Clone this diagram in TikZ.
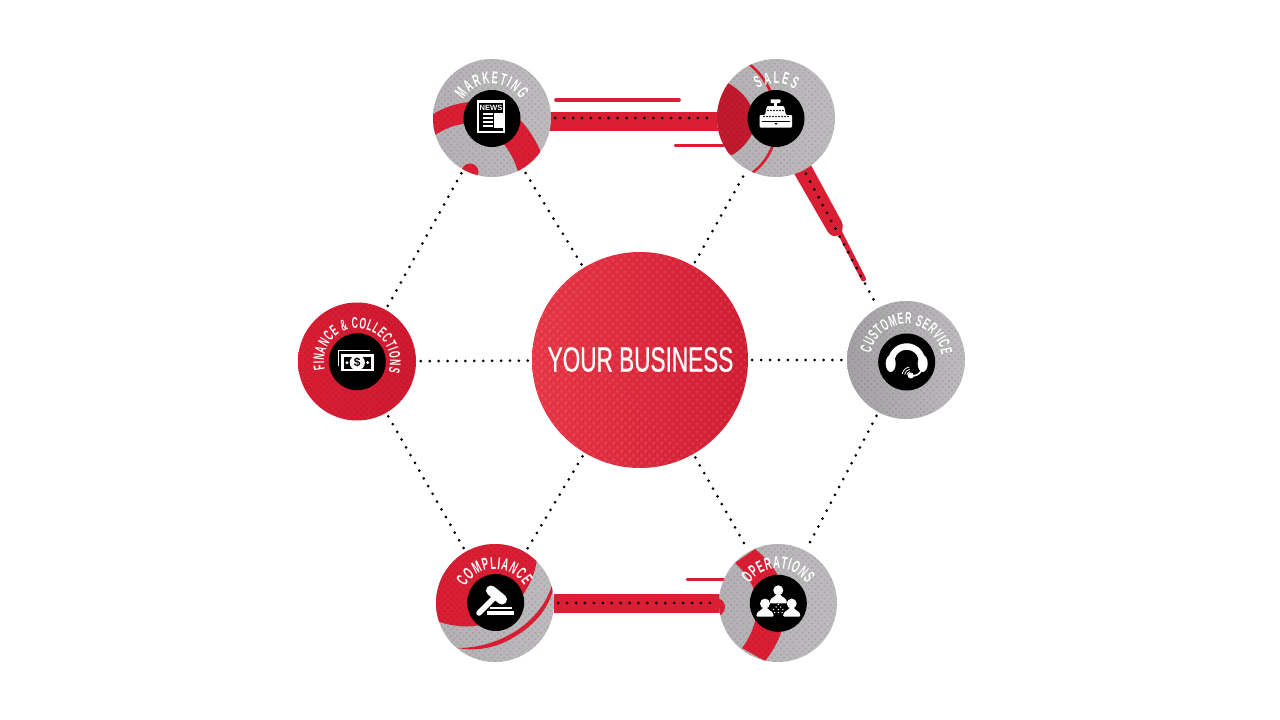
\documentclass[tikz,border=0pt]{standalone}
\usepackage{fontspec}
\usetikzlibrary{decorations.text,patterns.meta,backgrounds}
\newfontfamily\condfont[FakeStretch=0.645,FakeBold=0.5]{Liberation Sans}
\newfontfamily\labelfont[FakeStretch=0.55]{Liberation Sans Bold}
\newfontfamily\newsfont{Liberation Sans Bold}
\definecolor{brandred}{HTML}{DA1E34}
\definecolor{darkred}{HTML}{C21A2E}
\definecolor{diskgray}{HTML}{BDBBBD}
\definecolor{diskdark}{HTML}{B3B1B3}
\definecolor{custdark}{HTML}{A3A1A3}
\definecolor{E-left}{HTML}{E63545}
\definecolor{E-mid}{HTML}{DA1E34}
\definecolor{E-right}{HTML}{D01A30}
\pgfdeclarelayer{bands}
\pgfdeclarelayer{links}
\pgfsetlayers{bands,links,main}
\tikzset{
  x=1pt,y=-1pt,
  outerdisk/.style={circle,minimum size=118pt,inner sep=0pt,left color=diskdark,right color=diskgray},
  custdisk/.style={circle,minimum size=118pt,inner sep=0pt,left color=custdark,right color=diskgray},
  reddisk/.style={circle,minimum size=118pt,inner sep=0pt,left color=brandred,right color=E-right},
  core/.style={circle,minimum size=216pt,inner sep=0pt,left color=E-left,middle color=E-mid,right color=E-right},
  hub/.style={circle,minimum size=57pt,inner sep=0pt,fill=black},
  linkdots/.style={line width=3pt,line cap=round,dash pattern=on 0pt off 8.92pt,shorten >=4pt,shorten <=4pt},
  redfill/.style={fill=brandred},
  redline/.style={draw=brandred,line cap=round},
  halfgray/.style={pattern={Dots[distance=4.4pt,radius=1.25pt,angle=45]},pattern color=black,fill opacity=.09},
  halfcore/.style={pattern={Dots[distance=5.4pt,radius=1.9pt,angle=45]},pattern color=white,fill opacity=.09},
}
% label along an arc: #1 node, #2 radius, #3 start, #4 end (screen degrees), #5 size, #6 text
\newcommand{\arclabel}[6]{%
  \path[decorate,decoration={text along path,text align={fit to path},
    text={|\labelfont\fontsize{#5}{#5}\selectfont\color{white}|#6}}]
    ([shift={(-#3:#2)}]#1.center) arc[start angle=-#3,end angle=-#4,radius=#2];}
\newcommand{\haze}[1]{\fill[halfgray] (#1.center) circle (59);}
\newcommand{\personshape}[2]{%
  \fill[white] (#1,#2) circle (5);
  \fill[white,rounded corners=1pt] (#1-8.6,#2+13) .. controls (#1-8.6,#2+7.5) and (#1-3.5,#2+7) .. (#1-2.2,#2+4) -- (#1+2.2,#2+4) .. controls (#1+3.5,#2+7) and (#1+8.6,#2+7.5) .. (#1+8.6,#2+13) -- cycle;}
\begin{document}
\begin{tikzpicture}
\useasboundingbox (0,0) rectangle (1280,720);
\begin{pgfonlayer}{bands}
\fill[white] (0,0) rectangle (1280,720);
% marketing-sales streak
\fill[redfill] (549,112) rectangle (720,131);
\draw[redline,line width=3.6pt] (556,100) -- (679,100);
\draw[redline,line width=3pt] (675,145.5) -- (724,145.5);
% sales-customer streak
\fill[redfill,rounded corners=3pt] (788,163) -- (806,156) -- (843,224) -- (842,233) -- (835,237) -- (829,234) -- cycle;
\draw[redline,line width=5pt] (840,233) -- (863.5,279);
% compliance-operations streak
\fill[redfill] (554,594) rectangle (724,613.3);
\draw[redline,line width=3pt] (687,579) -- (726,579);
\end{pgfonlayer}

% hub circles
\node[core] (biz) at (640,360) {};
\fill[halfcore] (biz.center) circle (108);
\node[font=\condfont\fontsize{35}{35}\selectfont,text=white,inner sep=0pt] (bizlabel) at (640.5,359.5) {YOUR BUSINESS};

\node[outerdisk] (mkt) at (492,118) {};
\node[outerdisk] (sales) at (776,118) {};
\node[reddisk] (fin) at (357,361.5) {};
\node[custdisk] (cust) at (906,360) {};
\node[outerdisk] (comp) at (495,603) {};
\node[outerdisk] (ops) at (778,603) {};

\begin{pgfonlayer}{links}
\foreach \a/\b in {biz/mkt,biz/sales,biz/fin,biz/cust,biz/comp,biz/ops,mkt/fin,fin/comp,cust/ops,sales/cust,mkt/sales,comp/ops}
  \draw[linkdots] (\a) -- (\b);
\end{pgfonlayer}

% swooshes
\begin{scope}
\clip (mkt.center) circle (59);
\fill[redfill] (430,116) .. controls (445,106) and (465,100) .. (485,102) .. controls (510,105) and (530,125) .. (542,155) -- (518,172) .. controls (512,150) and (495,127) .. (470,124) .. controls (458,123) and (445,128) .. (432,137) -- cycle;
\fill[redfill] (470,172) circle (8.5);
\end{scope}
\begin{scope}
\clip (sales.center) circle (59);
\fill[darkred] (728,83) .. controls (740,90) and (750,100) .. (753,112) -- (753,132) .. controls (748,142) and (741,150) .. (732,155) -- (710,150) -- (710,90) -- cycle;
\draw[brandred,line width=2.6pt] (749,64) .. controls (768,78) and (778,105) .. (778,120) .. controls (778,140) and (768,162) .. (752,173);
\end{scope}
\begin{scope}
\clip (comp.center) circle (59);
\fill[redfill] (537,560) .. controls (533,585) and (517,610) .. (490,622) .. controls (472,629) and (455,627) .. (436,621) -- (425,600) -- (450,540) -- (530,540) -- cycle;
\fill[redfill] (554,585) .. controls (550,610) and (530,630) .. (505,642) .. controls (490,649) and (472,651) .. (458,648) .. controls (472,648) and (488,645) .. (503,638) .. controls (527,627) and (545,608) .. (552,585) -- cycle;
\end{scope}
\begin{scope}
\clip (ops.center) circle (59);
\fill[redfill] (735,563) -- (755,549) .. controls (775,565) and (786,585) .. (786,605) .. controls (786,625) and (778,645) .. (765,661) -- (742,648) .. controls (752,635) and (757,620) .. (757,605) .. controls (757,590) and (748,575) .. (735,563) -- cycle;
\fill[redfill] (716,607) circle (9);
\end{scope}
\haze{mkt}\haze{sales}\haze{fin}\haze{cust}\haze{comp}\haze{ops}

% black hubs
\node[hub] (mkthub) at (492,118.5) {};
\node[hub] (saleshub) at (776,118.5) {};
\node[hub] (finhub) at (357.3,361.7) {};
\node[hub] (custhub) at (906.7,362) {};
\node[hub] (comphub) at (495.7,602.5) {};
\node[hub] (opshub) at (778.3,603.3) {};

% labels
\arclabel{mkt}{34}{148}{33}{17}{MARKETING}
\arclabel{sales}{34.5}{122}{57}{17}{SALES}
\arclabel{fin}{33}{194}{-18}{15.5}{FINANCE {\&} COLLECTIONS}
\arclabel{cust}{36}{169}{8}{16}{CUSTOMER SERVICE}
\arclabel{comp}{34}{151}{31}{17}{COMPLIANCE}
\arclabel{ops}{34.5}{146}{34}{17}{OPERATIONS}

% newspaper icon
\fill[white] (476.7,100) rectangle (505,133.3);
\fill[black] (479,102.5) rectangle (502.5,130.5);
\node[font=\newsfont\fontsize{7.6}{7.6}\selectfont,text=white,inner sep=0pt] (newsword) at (491,107.5) {NEWS};
\foreach \yy in {114,118,122,126} \fill[white] (483,\yy-.9) rectangle (492.5,\yy+.9);
\fill[white] (494,113) rectangle (502.5,127.5);

% cash register icon
\fill[white,rounded corners=1pt] (759.5,115) -- (765,115) -- (767,106) -- (784,106) -- (786,115) -- (792,115) -- (792,127.5) -- (759.5,127.5) -- cycle;
\fill[white] (774,101) rectangle (777,106);
\fill[white,rounded corners=.8pt] (770.5,99.3) rectangle (780.5,103);
\foreach \xx in {768,771,774,777,780,783} \fill[black] (\xx,110.5) circle (.8);
\foreach \xx in {764,767,770,773,776,779,782,785,788} \fill[black] (\xx,116.5) circle (.8);
\draw[black,line width=.5pt] (762,121) -- (790,121);
\fill[black] (774.5,123) -- (777.5,123) -- (776,125) -- cycle;

% money icon
\draw[white,line width=1.2pt] (338.5,366) -- (338.5,350.6) -- (370,350.6);
\fill[white] (340.7,354.3) rectangle (374,371);
\fill[black] (344,357) rectangle (370.5,368.5);
\fill[white] (357.3,362.7) circle (7.6);
\fill[white] (347,362.7) circle (1.6);
\fill[white] (367.6,362.7) circle (1.6);
\node[font=\newsfont\fontsize{12}{12}\selectfont,text=black,inner sep=0pt] (dollar) at (357.3,362.7) {\$};

% headset icon
\draw[white,line width=6.5pt] ([shift={(175:15.5)}]custhub.center) arc[start angle=175,end angle=365,radius=15.5];
\fill[white] (890.7,363.5) ellipse (5 and 8.5);
\fill[white] (922.7,363.5) ellipse (5 and 8.5);
\draw[white,line width=1.6pt] (921,371) .. controls (919,375) and (915,376) .. (911,376);
\fill[white] (910.7,375.5) circle (3);
\foreach \rr in {3.8,6.2,8.6}
  \draw[white,line width=.8pt] ([shift={(-100:\rr)}]910.7,375.5) arc[start angle=-100,end angle=-170,radius=\rr];

% gavel icon
\draw[white,line width=5.5pt,line cap=round] (479,613) -- (495,597);
\draw[white,line width=10pt,line cap=round] (491,590.5) -- (502,599.5);
\fill[white] (490,607) rectangle (512,608.7);
\fill[white] (486.5,611) rectangle (514,614.6);

% people icon
\personshape{778.3}{590.3}
\personshape{765}{603.6}
\personshape{791.7}{603.6}
\foreach \xx/\yy in {778.3/604.5,776/607,780.6/607,773.7/609.5,778.3/609.5,782.9/609.5,774.5/612.5,778.3/612.5,782/612.5}
  \fill[white] (\xx,\yy) circle (.75);
\end{tikzpicture}
\end{document}
